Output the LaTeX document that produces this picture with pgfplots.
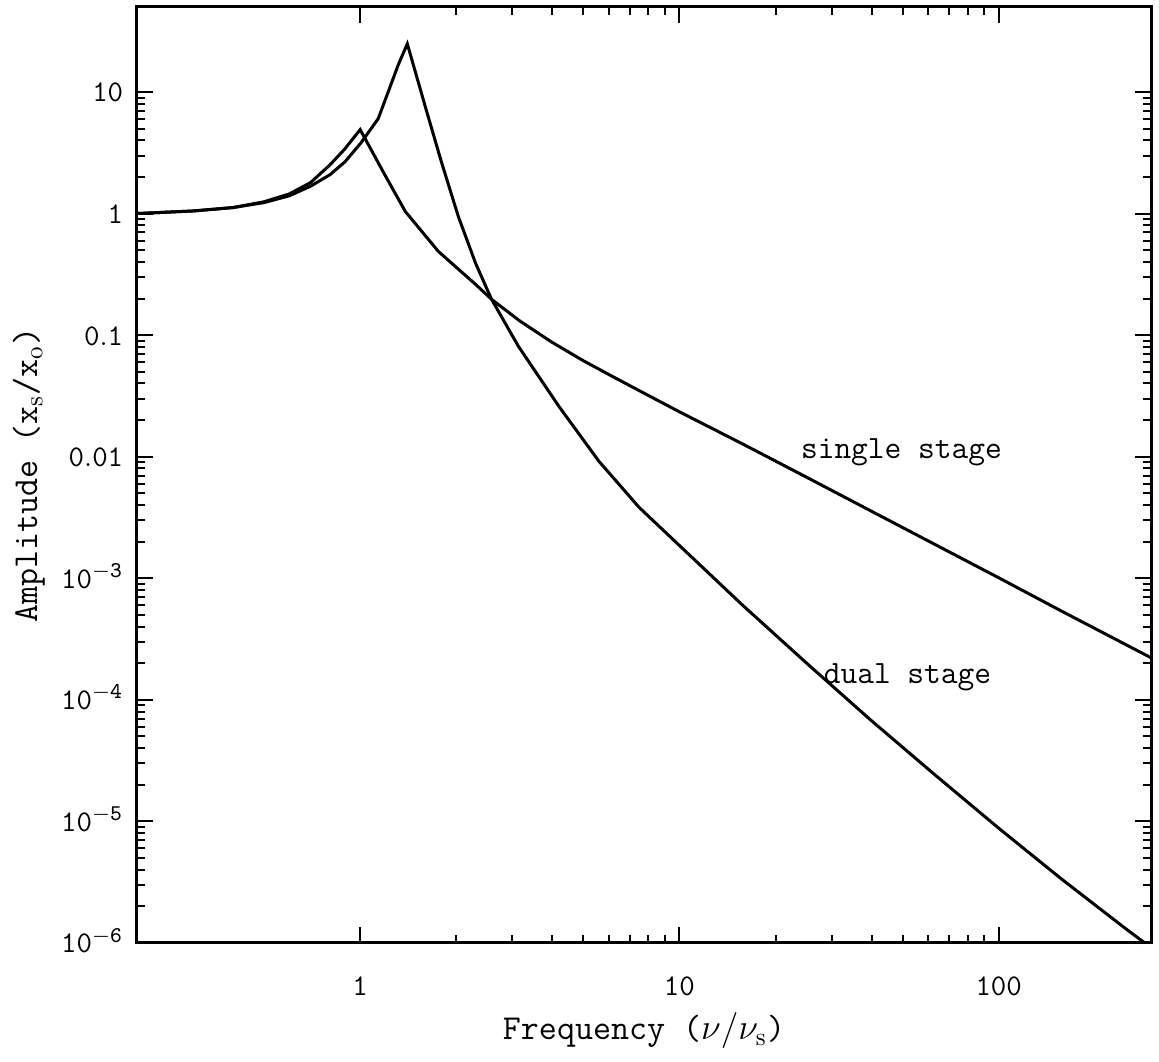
\documentclass[border=0pt]{standalone}
\usepackage{pgfplots}
\pgfplotsset{compat=1.18}

\begin{document}
\begin{tikzpicture}
% reference frame: 0.4pt per pixel of the original
\useasboundingbox (-54.8pt,-47.6pt) rectangle (408.8pt,377.2pt);
\begin{axis}[
  scale only axis,
  width=405.6pt,
  height=374.4pt,
  xmode=log, ymode=log,
  xmin=0.2, xmax=300,
  ymin=1e-6, ymax=50,
  axis line style={line width=1.2pt},
  tick style={line width=0.8pt, black},
  major tick length=6.5pt,
  minor tick length=3.2pt,
  tick align=inside,
  xtick={1,10,100},
  xticklabels={$\mathtt{1}$,$\mathtt{10}$,$\mathtt{100}$},
  ytick={1e-6,1e-5,1e-4,1e-3,0.01,0.1,1,10},
  yticklabels={$\mathtt{10^{-6}}$,$\mathtt{10^{-5}}$,$\mathtt{10^{-4}}$,$\mathtt{10^{-3}}$,$\mathtt{0.01}$,$\mathtt{0.1}$,$\mathtt{1}$,$\mathtt{10}$},
  every tick label/.append style={font=\fontsize{13}{15}\selectfont},
  xticklabel style={anchor=base, yshift=-21pt},
  yticklabel style={anchor=base east, xshift=-2pt, yshift=-4pt},
  label style={font=\fontsize{14}{16}\selectfont\ttfamily},
  xlabel={Frequency ($\nu/\nu_\mathrm{s}$)},
  ylabel={Amplitude (x$_\mathrm{s}$/x$_\mathrm{o}$)},
  xlabel style={at={(axis description cs:0.5,-0.1036)}, anchor=base},
  ylabel style={at={(axis description cs:-0.0986,0.5)}, anchor=base},
  clip=false,
]

% single stage
\addplot[black, line width=1.2pt] coordinates {
  (0.2,1.0) (0.3,1.05) (0.4,1.12) (0.5,1.25) (0.6,1.45) (0.7,1.8)
  (0.805,2.52) (0.897,3.42) (1.0,4.9)
  (1.2,2.04) (1.385,1.04) (1.758,0.488) (2.30,0.261) (2.58,0.197)
  (3.16,0.131) (3.98,0.0877) (5.01,0.0614) (6.31,0.0443) (7.94,0.0322)
  (10,0.0234) (15.8,0.0127) (25.1,6.75e-3) (39.8,3.58e-3) (63.1,1.90e-3)
  (100,1.01e-3) (158,5.34e-4) (300,2.22e-4)
};

% dual stage
\addplot[black, line width=1.2pt] coordinates {
  (0.2,1.0) (0.3,1.05) (0.4,1.12) (0.5,1.23) (0.6,1.4) (0.7,1.68)
  (0.805,2.09) (0.897,2.67) (1.007,3.83) (1.139,6.03) (1.224,10.0)
  (1.316,16.7) (1.405,24.9)
  (1.6,7.56) (1.796,2.67) (2.03,0.945) (2.30,0.389) (2.58,0.197)
  (3.13,0.081) (4.19,0.026) (5.59,0.0092) (7.47,3.84e-3) (10,1.86e-3)
  (15.8,5.98e-4) (25.1,1.99e-4) (39.8,6.8e-5) (63.1,2.42e-5)
  (100,8.8e-6) (158,3.33e-6) (251,1.30e-6) (287,1e-6)
};

\node[anchor=base, font=\fontsize{13}{15}\selectfont\ttfamily] at (axis cs:49.6,0.0096) {single stage};
\node[anchor=base, font=\fontsize{13}{15}\selectfont\ttfamily] at (axis cs:51.8,1.36e-4) {dual stage};

\end{axis}
\end{tikzpicture}
\end{document}
